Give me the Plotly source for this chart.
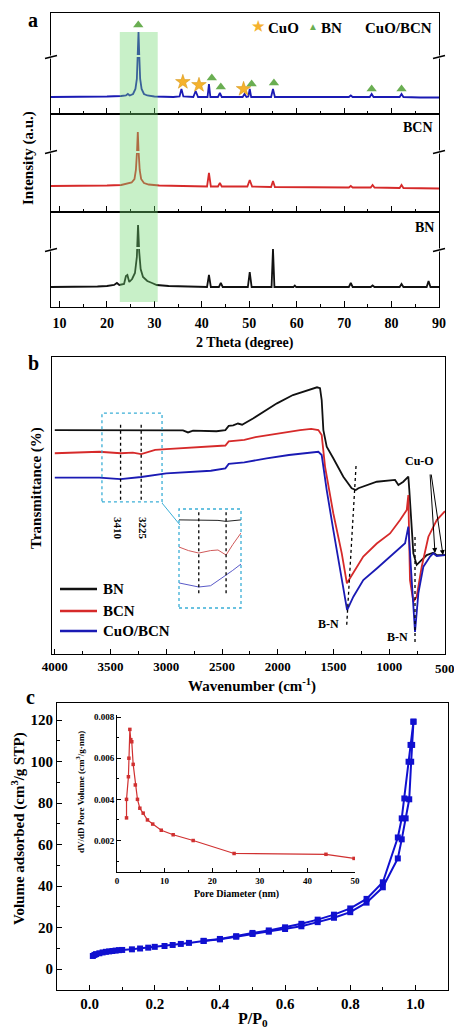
import plotly.graph_objects as go

W, H = 454, 1030
def px(x): return x / W
def py(y): return 1 - y / H

FONT = "Liberation Serif, Times New Roman, serif"

# ---------------- Panel a : XRD (2theta, intensity a.u.) ----------------
xrd_cuo_bcn = [(8.2,17),(12,17),(16,17),(20,17.5),(23.0,18),(24.0,18.5),(24.4,20),(24.8,18.5),(25.5,20),(26.0,25),(26.3,35),(26.5,60),(26.65,82),(26.8,60),(27.0,35),(27.3,25),(27.8,20),(28.5,18.5),(30,17.5),(34,17),(35.3,17.5),(35.7,25),(36.1,17.5),(38.2,17),(38.7,23),(39.2,17),(41.2,17),(41.5,30),(41.8,17),(43.4,17),(43.8,21),(44.2,17),(48.6,17),(49.0,20),(49.4,17),(49.8,17.5),(50.1,25),(50.4,17),(54.6,17),(55.0,25),(55.4,17),(60,17),(65,17),(71.0,17),(71.4,18.5),(71.8,17),(75.4,17),(75.8,20),(76.2,17),(81.7,17),(82.1,20),(82.5,17),(86,16.5),(90,16.5)]
xrd_bcn = [(8.2,26),(15,26),(20,26.5),(23,27),(24.2,28),(25.2,29.5),(25.8,33),(26.1,42),(26.35,62),(26.5,80),(26.65,62),(26.9,42),(27.2,33),(27.8,29),(28.8,27.5),(31,26.5),(36,26),(41.1,25.5),(41.5,39),(41.9,25.5),(43.4,25.5),(43.8,29),(44.2,25.5),(49.6,25.5),(50.1,32),(50.6,25.5),(54.6,25),(55.0,31),(55.4,25),(60,25),(71.0,24.5),(71.4,26),(71.8,24.5),(75.6,24.5),(76.0,27),(76.4,24.5),(81.7,24),(82.1,27),(82.5,24),(90,23.5)]
xrd_bn = [(8.2,20),(14,20),(18,20.5),(20,21),(21.5,22),(22.1,24),(22.6,22),(23.6,23),(24.0,31),(24.3,32),(24.7,25),(25.3,28),(25.9,34),(26.3,50),(26.55,82),(26.8,55),(27.1,38),(27.6,30),(28.5,26),(29.5,24),(30.5,22),(33,21),(38,20),(41.1,20),(41.5,32),(41.9,20),(43.6,20),(44.0,24),(44.4,20),(49.7,20),(50.1,35),(50.5,20),(54.7,20),(55.0,58),(55.3,20),(59.3,20),(59.6,21.5),(59.9,20),(71.0,20),(71.4,24),(71.8,20),(75.6,20),(76.0,21.5),(76.4,20),(81.7,20),(82.1,23),(82.5,20),(87.4,20),(87.8,26),(88.2,20),(90,20)]
cuo_peak_x = [36.0, 39.4, 48.8]
cuo_peak_y = [32, 29, 25]
bn_peak_x = [26.6, 42.1, 44.0, 50.5, 55.2, 75.8, 82.1]
bn_peak_y = [89, 36, 27, 30, 31, 25, 25]

# ---------------- Panel b : FTIR (wavenumber, transmittance a.u.) ----------------
ir_bn = [(4000,75.4),(3600,75.4),(3410,75.4),(3225,75.3),(2850,75.3),(2805,74.6),(2760,75.2),(2550,75.0),(2470,75.4),(2440,76.8),(2400,77.0),(2357,77.6),(2320,77.2),(2222,79.3),(2007,84.4),(1864,87.2),(1711,89.1),(1648,89.8),(1621,89.5),(1606,85.5),(1591,75.4),(1561,69.8),(1502,65.9),(1412,59.7),(1337,55.8),(1300,55.2),(1277,55.8),(1202,56.9),(1112,58),(948,58.6),(918,56.9),(874,58),(829,59.7),(820,55.2),(784,33.9),(754,30),(724,31.1),(664,33.3),(605,34.1),(574,33.3),(500,33.3)]
ir_bcn = [(4000,67.6),(3600,68.1),(3410,67.6),(3300,67.8),(3225,67.3),(3100,68.7),(3000,69),(2600,69.8),(2470,70.2),(2440,71.6),(2300,72.1),(2200,73),(2000,74.3),(1800,75.4),(1700,75.8),(1636,75.4),(1606,73.7),(1576,63.1),(1502,47.4),(1426,33.9),(1380,23.8),(1322,27.2),(1233,32.8),(1112,37.2),(993,40.6),(903,45.1),(843,48.5),(829,53.5),(814,24.9),(784,17.6),(754,19.3),(709,29.4),(649,39.5),(574,45.1),(500,48.1)]
ir_cuo = [(4000,59.4),(3600,59.4),(3410,58.9),(3225,59.6),(3000,60.8),(2600,61.7),(2470,62.5),(2440,64),(2300,64.5),(2100,65.9),(1900,67),(1700,67.8),(1636,68.1),(1606,67),(1561,55.2),(1502,41.8),(1426,26),(1378,14.8),(1322,19.3),(1233,24.9),(1112,28.8),(993,32.8),(903,35.6),(858,37.3),(829,42.9),(814,33.9),(769,7.4),(739,20.4),(694,29.4),(634,32.8),(605,33.9),(574,33),(500,33.3)]
ir_ticks = [4000, 3500, 3000, 2500, 2000, 1500, 1000]
zoom_wn = [3544, 3480, 3410, 3330, 3280, 3225, 3180, 3124]
zoom_bn = [89, 89, 89, 89, 88.5, 87.5, 88.5, 89]
zoom_bcn = [61.6, 58, 55.5, 58.0, 58.6, 53.5, 64, 75.8]
zoom_cuo = [25.3, 23, 21.2, 22.5, 28, 33.3, 38, 44.4]

# ---------------- Panel c : N2 isotherm ----------------
p_ads = [0.01,0.015,0.02,0.03,0.04,0.05,0.06,0.07,0.08,0.09,0.10,0.13,0.155,0.18,0.20,0.23,0.255,0.28,0.305,0.35,0.40,0.45,0.50,0.55,0.60,0.65,0.70,0.75,0.80,0.85,0.90,0.946,0.958,0.970,0.981,0.987,0.990,0.994]
v_ads = [6.3,6.8,7.2,7.6,8.0,8.3,8.5,8.7,8.9,9.1,9.2,9.5,9.9,10.3,10.7,11.1,11.6,12.1,12.6,13.5,14.3,15.6,16.9,18.0,19.3,20.6,22.6,24.7,27.4,32.0,39.4,53.3,62.5,72.6,81.8,99.9,108,119.2]
p_des = [0.994,0.985,0.979,0.966,0.958,0.946,0.90,0.85,0.80,0.75,0.70,0.65,0.60,0.55,0.50,0.45,0.40,0.35]
v_des = [119.2,108,99.9,82.2,72.6,63.4,41.8,33.8,29.2,26.2,23.8,21.8,20.1,18.6,17.4,15.8,14.5,13.6]
pore_d = [2.0,2.0,2.4,2.5,2.7,2.9,3.1,3.4,3.85,4.3,4.8,5.5,6.4,7.5,9.3,11.8,16.0,24.6,43.9,49.8]
pore_dv = [0.0031,0.0040,0.0051,0.0060,0.0074,0.0069,0.0068,0.0057,0.0047,0.0040,0.00357,0.00333,0.0030,0.0028,0.0025,0.00228,0.00200,0.00137,0.00133,0.00113]

BLUE = "#1a1ab4"; RED = "#d62a2a"; BLACK = "#111111"

fig = go.Figure()
def line(xy, xa, ya, color, w=1.5):
    xs, ys = zip(*xy)
    fig.add_trace(go.Scatter(x=xs, y=ys, xaxis=xa, yaxis=ya, mode="lines",
                             line=dict(color=color, width=w), hoverinfo="skip"))

line(xrd_cuo_bcn, "x", "y", BLUE, 1.8)
line(xrd_bcn, "x2", "y2", RED, 1.8)
line(xrd_bn, "x3", "y3", BLACK, 1.8)
fig.add_trace(go.Scatter(x=cuo_peak_x, y=cuo_peak_y, xaxis="x", yaxis="y", mode="markers",
                         marker=dict(symbol="star", size=11, color="#f5b22e", line=dict(color="#d09010", width=0.5))))
fig.add_trace(go.Scatter(x=bn_peak_x, y=bn_peak_y, xaxis="x", yaxis="y", mode="markers",
                         marker=dict(symbol="triangle-up", size=9, color="#6aae52")))

line(ir_bn, "x4", "y4", BLACK, 1.8)
line(ir_bcn, "x4", "y4", RED, 1.8)
line(ir_cuo, "x4", "y4", BLUE, 1.8)
fig.add_trace(go.Scatter(x=zoom_wn, y=zoom_bn, xaxis="x7", yaxis="y7", mode="lines", line=dict(color="#222", width=1)))
fig.add_trace(go.Scatter(x=zoom_wn, y=zoom_bcn, xaxis="x7", yaxis="y7", mode="lines", line=dict(color="#d05a5a", width=1)))
fig.add_trace(go.Scatter(x=zoom_wn, y=zoom_cuo, xaxis="x7", yaxis="y7", mode="lines", line=dict(color="#5a5ac8", width=1)))

fig.add_trace(go.Scatter(x=p_ads, y=v_ads, xaxis="x5", yaxis="y5", mode="lines+markers",
                         line=dict(color="#1010d0", width=2), marker=dict(symbol="square", size=6, color="#1010d0")))
fig.add_trace(go.Scatter(x=p_des, y=v_des, xaxis="x5", yaxis="y5", mode="lines+markers",
                         line=dict(color="#1010d0", width=2), marker=dict(symbol="square", size=6, color="#1010d0")))
fig.add_trace(go.Scatter(x=pore_d, y=pore_dv, xaxis="x6", yaxis="y6", mode="lines+markers",
                         line=dict(color="#d03030", width=1.2), marker=dict(symbol="square", size=3.5, color="#d03030")))

def tf(size):
    return dict(family=FONT, size=size, color="black", weight="bold")

base = dict(showline=True, linecolor="black", linewidth=1.2, mirror=True, showgrid=False,
            zeroline=False, ticks="", showticklabels=False, automargin=False)

lay = {}
# panel a axes
for name, anchor, labels in [("xaxis", "y", False), ("xaxis2", "y2", False), ("xaxis3", "y3", True)]:
    d = dict(base, domain=[px(51), px(439)], range=[8.2, 90], anchor=anchor, ticks="inside",
             ticklen=6, tickcolor="black", dtick=10, tick0=10, showticklabels=labels, tickfont=tf(14),
             ticklabelstandoff=3,
             minor=dict(ticks="inside", ticklen=3, dtick=5, tick0=5, tickcolor="black"))
    if name != "xaxis":
        d["matches"] = "x"
    lay[name] = d
lay["yaxis"] = dict(base, domain=[py(114), py(13)], range=[0, 101], anchor="x")
lay["yaxis2"] = dict(base, domain=[py(212), py(114)], range=[0, 98], anchor="x2")
lay["yaxis3"] = dict(base, domain=[py(307), py(212)], range=[0, 95], anchor="x3")
# panel b
lay["xaxis4"] = dict(base, domain=[px(52), px(445)], range=[4025, 500], anchor="y4", ticks="inside",
                     ticklen=5, tickcolor="black", tickvals=ir_ticks, showticklabels=True, tickfont=tf(13),
                     minor=dict(ticks="inside", ticklen=3, dtick=250, tick0=250, tickcolor="black"))
lay["yaxis4"] = dict(base, domain=[py(654), py(357)], range=[0, 100], anchor="x4")
lay["xaxis7"] = dict(domain=[px(179), px(241)], range=[3544, 3124], anchor="y7", visible=False,
                     showticklabels=False, automargin=False)
lay["yaxis7"] = dict(domain=[py(608), py(509)], range=[0, 100], anchor="x7", visible=False,
                     showticklabels=False, automargin=False)
# panel c
lay["xaxis5"] = dict(base, domain=[px(57), px(448)], range=[-0.1, 1.1], anchor="y5", ticks="inside",
                     ticklen=5, tickcolor="black", dtick=0.2, tick0=0, tickformat=".1f", showticklabels=True,
                     tickfont=tf(15),
                     minor=dict(ticks="inside", ticklen=3, dtick=0.1, tick0=0, tickcolor="black"))
lay["yaxis5"] = dict(base, domain=[py(990), py(703)], range=[-10.1, 128.2], anchor="x5", ticks="inside",
                     ticklen=5, tickcolor="black", dtick=20, tick0=0, showticklabels=True, tickfont=tf(15),
                     minor=dict(ticks="inside", ticklen=3, dtick=10, tick0=0, tickcolor="black"))
lay["xaxis6"] = dict(showline=True, linecolor="black", linewidth=1, mirror=False, showgrid=False, zeroline=False,
                     automargin=False,
                     domain=[px(117), px(355)], range=[0, 50], anchor="y6", ticks="inside", ticklen=4,
                     tickcolor="black", dtick=10, tick0=0, tickfont=tf(9),
                     minor=dict(ticks="inside", ticklen=2, dtick=5, tick0=0, tickcolor="black"))
lay["yaxis6"] = dict(showline=True, linecolor="black", linewidth=1, mirror=False, showgrid=False, zeroline=False,
                     automargin=False,
                     domain=[py(872), py(715)], range=[0.00047, 0.0081], anchor="x6", ticks="inside", ticklen=4,
                     tickcolor="black", tickvals=[0.002, 0.004, 0.006, 0.008],
                     ticktext=["0.002", "0.004", "0.006", "0.008"], tickfont=tf(9),
                     minor=dict(ticks="inside", ticklen=2, tickvals=[0.001, 0.003, 0.005, 0.007], tickcolor="black"))

shapes = []
def pline(x0, y0, x1, y1, color="black", w=1, dash="solid"):
    shapes.append(dict(type="line", xref="paper", yref="paper", x0=px(x0), y0=py(y0), x1=px(x1), y1=py(y1),
                       line=dict(color=color, width=w, dash=dash), layer="above"))
# peak breaks (white gaps)
for xr, yr, yv in [("x", "y", 58), ("x2", "y2", 60), ("x3", "y3", 59)]:
    shapes.append(dict(type="line", xref=xr, yref=yr, x0=25.9, x1=27.3, y0=yv, y1=yv,
                       line=dict(color="white", width=2), layer="above"))
# axis break marks
for yb in [57, 152, 250]:
    for xb in [51, 439]:
        pline(xb - 2, yb, xb + 2, yb, "white", 3)
        pline(xb - 6, yb + 1.5, xb + 6, yb - 1.5, "black", 1.8)
# green highlight
shapes.append(dict(type="rect", xref="x", yref="paper", x0=22.7, x1=30.7, y0=py(302), y1=py(32),
                   fillcolor="rgba(110,215,110,0.38)", line=dict(width=0), layer="above"))
# panel b decorations
for wn in [3410, 3225]:
    shapes.append(dict(type="line", xref="x4", yref="y4", x0=wn, x1=wn, y0=51.9, y1=78.1,
                       line=dict(color="black", width=1.3, dash="dot")))
shapes.append(dict(type="rect", xref="x4", yref="y4", x0=3577, x1=3038, y0=51.2, y1=81.1,
                   line=dict(color="#3aaed6", width=1.3, dash="dot")))
shapes.append(dict(type="line", xref="x4", yref="y4", x0=1298, x1=1382, y0=63.3, y1=9.5,
                   line=dict(color="black", width=1.3, dash="dot")))
shapes.append(dict(type="line", xref="x4", yref="y4", x0=769, x1=769, y0=39.4, y1=3.7,
                   line=dict(color="black", width=1.3, dash="dot")))
pline(162, 503, 180, 525, "#3aaed6", 1)
shapes.append(dict(type="rect", xref="paper", yref="paper", x0=px(179), x1=px(241), y0=py(608), y1=py(509),
                   line=dict(color="#3aaed6", width=1.3, dash="dot")))
for wn in [3410, 3225]:
    shapes.append(dict(type="line", xref="x7", yref="y7", x0=wn, x1=wn, y0=15, y1=97,
                       line=dict(color="black", width=1.3, dash="dot")))
for yl, c in [(589, BLACK), (611, RED), (631, BLUE)]:
    pline(60, yl, 97, yl, c, 2.5)

anns = []
def ann(text, x, y, size, color="black", angle=0, xanchor="center"):
    anns.append(dict(text=text, x=px(x), y=py(y), xref="paper", yref="paper", showarrow=False,
                     font=tf(size) | dict(color=color), textangle=angle, xanchor=xanchor, yanchor="middle"))

ann("a", 33, 20, 20)
ann("b", 33, 363, 20)
ann("c", 30, 697, 20)
ann("Intensity (a.u.)", 28, 158, 15, angle=-90)
ann("2 Theta (degree)", 245, 343, 14)
ann("★", 258, 26, 14, color="#f5b22e")
ann("CuO", 283, 28, 15)
ann("▲", 313, 26, 10, color="#6aae52")
ann("BN", 331, 28, 15)
ann("CuO/BCN", 398, 28, 15)
ann("BCN", 418, 127, 14)
ann("BN", 424, 227, 14)

ann("Transmittance (%)", 37, 488, 15, angle=-90)
ann("Wavenumber (cm<sup>-1</sup>)", 252, 685, 15)
ann("500", 445, 668, 13)
ann("3410", 118, 528, 11, angle=90)
ann("3225", 143, 528, 11, angle=90)
ann("BN", 101, 589, 15, xanchor="left")
ann("BCN", 101, 611, 15, xanchor="left")
ann("CuO/BCN", 101, 631, 15, xanchor="left")
ann("B-N", 328, 624, 12)
ann("B-N", 397, 637, 12)
ann("Cu-O", 419, 461, 12)
for hx, hy, tx, ty in [(435, 553, 430, 473), (443, 555, 431, 473)]:
    anns.append(dict(text="", x=px(hx), y=py(hy), xref="paper", yref="paper", showarrow=True,
                     ax=tx - hx, ay=ty - hy, arrowhead=2, arrowsize=1, arrowwidth=1, arrowcolor="black",
                     standoff=0, startstandoff=0))

ann("Volume adsorbed (cm<sup>3</sup>/g STP)", 18, 829, 15, angle=-90)
ann("P/P<sub>0</sub>", 253, 1019, 16)
ann("Pore Diameter (nm)", 236, 894, 10)
ann("dV/dD Pore Volume (cm<sup>3</sup>/g·nm)", 80, 792, 9, angle=-90)

fig.update_layout(template="none", width=W, height=H, margin=dict(l=0, r=0, t=0, b=0, autoexpand=False),
                  paper_bgcolor="white", plot_bgcolor="rgba(0,0,0,0)", showlegend=False, shapes=shapes,
                  annotations=anns, font=dict(family=FONT), **lay)
fig.write_html("out.html")
